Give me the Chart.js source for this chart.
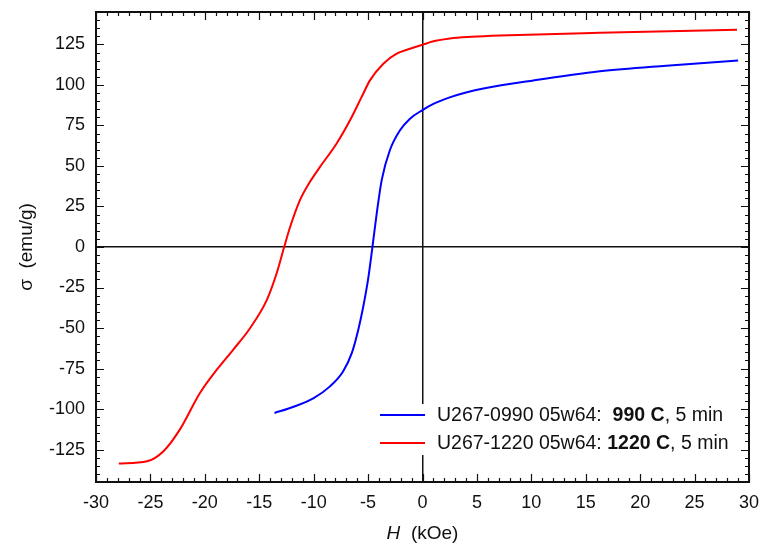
<!DOCTYPE html>
<html>
<head>
<meta charset="utf-8">
<script src="https://cdn.jsdelivr.net/npm/chart.js@4/dist/chart.umd.min.js"></script>
<style>
  html, body { margin: 0; padding: 0; background: #fff; }
  canvas { display: block; }
</style>
</head>
<body>
<canvas id="loop" width="763" height="550"></canvas>
<script>
// Sample 1: U267-0990, 990 C
const blueH = [-13.6, -11.9, -10.0, -8.5, -7.3, -6.5, -5.9, -5.45, -5.0, -4.6, -4.2, -3.75, -3.0, -2.07, -1.15, 0, 1.0, 2.5, 4.0, 5.6, 10.2, 16.3, 22.4, 29.0];
const blueS = [-102.4, -98.7, -93.2, -86, -76.8, -65.5, -51, -37, -20, 0, 21, 41.3, 59.7, 72, 79.2, 84.5, 88.3, 92.3, 95.3, 97.8, 102.8, 108.4, 111.9, 115.1];

// Sample 2: U267-1220, 1220 C
const redH = [-27.9, -25.3, -23.8, -22.3, -20.45, -18.9, -17.4, -15.85, -14.3, -13.4, -12.73, -12.18, -11.26, -10.34, -9.42, -7.89, -6.66, -5.59, -4.83, -3.6, -2.37, -1.15, 0, 1.2, 2.53, 4.5, 7.1, 16.3, 28.9];
const redS = [-133.6, -132.2, -126, -112.7, -90.1, -75.7, -63.4, -50.1, -32.6, -16.2, -0.5, 12, 28.9, 40.2, 49.4, 63.9, 78.2, 92.6, 102.8, 113.1, 119.3, 122.3, 124.8, 127.2, 128.7, 129.7, 130.5, 132.2, 134];

const xTicks = [-30, -25, -20, -15, -10, -5, 0, 5, 10, 15, 20, 25, 30];
const yTicks = [-125, -100, -75, -50, -25, 0, 25, 50, 75, 100, 125];

const legendRows = [
    { color: "#0000ff", parts: ["U267-0990 05w64:  ", "990 C", ", 5 min"] },
    { color: "#ff0000", parts: ["U267-1220 05w64: ", "1220 C", ", 5 min"] },
];

const FONT = "'Liberation Sans', Arial, sans-serif";

const toPoints = (xs, ys) => xs.map((x, i) => ({ x: x, y: ys[i] }));

// Inward ticks on all four sides, full frame, axis titles and legend
const framePlugin = {
    id: "frame",
    afterDraw(chart) {
        const ctx = chart.ctx;
        const a = chart.chartArea;
        const xs = chart.scales.x;
        const ys = chart.scales.y;
        ctx.save();
        ctx.strokeStyle = "#111";
        ctx.lineWidth = 1.2;
        ctx.beginPath();
        for (let v = -30; v <= 30; v += 1) {
            const px = Math.round(xs.getPixelForValue(v)) + 0.5;
            const len = v % 5 === 0 ? 8 : 4;
            ctx.moveTo(px, a.bottom); ctx.lineTo(px, a.bottom - len);
            ctx.moveTo(px, a.top); ctx.lineTo(px, a.top + len);
        }
        for (let v = -145; v <= 145; v += 5) {
            const py = Math.round(ys.getPixelForValue(v)) + 0.5;
            const len = v % 25 === 0 ? 8 : 4;
            ctx.moveTo(a.left, py); ctx.lineTo(a.left + len, py);
            ctx.moveTo(a.right, py); ctx.lineTo(a.right - len, py);
        }
        ctx.stroke();
        ctx.lineWidth = 2;
        ctx.strokeRect(a.left, a.top, a.right - a.left, a.bottom - a.top);

        // axis titles
        ctx.fillStyle = "#111";
        ctx.textBaseline = "middle";
        ctx.font = "italic 19px " + FONT;
        const hW = ctx.measureText("H").width;
        ctx.font = "19px " + FONT;
        const restX = "  (kOe)";
        const rW = ctx.measureText(restX).width;
        let sx = (a.left + a.right) / 2 - (hW + rW) / 2;
        ctx.textAlign = "left";
        ctx.font = "italic 19px " + FONT;
        ctx.fillText("H", sx, 534);
        ctx.font = "19px " + FONT;
        ctx.fillText(restX, sx + hW, 534);

        ctx.save();
        ctx.translate(27, (a.top + a.bottom) / 2);
        ctx.rotate(-Math.PI / 2);
        ctx.font = "19px " + FONT;
        const sW = ctx.measureText("\u03c3").width;
        const restY = "  (emu/g)";
        const ryW = ctx.measureText(restY).width;
        let sy = -(sW + ryW) / 2;
        ctx.fillText("\u03c3", sy, 0);
        ctx.fillText(restY, sy + sW, 0);
        ctx.restore();

        // legend
        ctx.fillStyle = "#fff";
        ctx.fillRect(374, 404, 362, 51);
        legendRows.forEach((row, i) => {
            const yy = 415 + i * 28;
            ctx.strokeStyle = row.color;
            ctx.lineWidth = 2;
            ctx.beginPath();
            ctx.moveTo(380, yy); ctx.lineTo(425, yy);
            ctx.stroke();
            let tx = 437;
            ctx.fillStyle = "#111";
            row.parts.forEach((p, j) => {
                ctx.font = (j === 1 ? "bold " : "") + "19.5px " + FONT;
                ctx.fillText(p, tx, yy + 1);
                tx += ctx.measureText(p).width;
            });
        });
        ctx.restore();
    },
};

new Chart(document.getElementById("loop"), {
    type: "line",
    data: {
        datasets: [
            { label: "U267-0990 05w64: 990 C, 5 min", data: toPoints(blueH, blueS), borderColor: "#0000ff", borderWidth: 2, pointRadius: 0, cubicInterpolationMode: "monotone", fill: false },
            { label: "U267-1220 05w64: 1220 C, 5 min", data: toPoints(redH, redS), borderColor: "#ff0000", borderWidth: 2, pointRadius: 0, cubicInterpolationMode: "monotone", fill: false },
        ],
    },
    options: {
        responsive: false,
        animation: false,
        layout: { padding: { top: 12, right: 14, left: 0, bottom: 0 } },
        plugins: { legend: { display: false }, tooltip: { enabled: false } },
        scales: {
            x: {
                type: "linear",
                min: -30,
                max: 30,
                afterBuildTicks: (s) => { s.ticks = xTicks.map((v) => ({ value: v })); },
                afterFit: (s) => { s.height = 68; s.paddingLeft = 0; s.paddingRight = 0; },
                ticks: { padding: 10, color: "#111", font: { family: FONT, size: 18 } },
                grid: { drawTicks: false, lineWidth: 1.5, color: (c) => (c.tick && c.tick.value === 0 ? "#111" : "rgba(0,0,0,0)") },
                border: { display: false },
            },
            y: {
                type: "linear",
                min: -145,
                max: 145,
                afterBuildTicks: (s) => { s.ticks = yTicks.map((v) => ({ value: v })); },
                afterFit: (s) => { s.width = 96; s.paddingTop = 0; s.paddingBottom = 0; },
                ticks: { padding: 11, color: "#111", font: { family: FONT, size: 18 } },
                grid: { drawTicks: false, lineWidth: 1.5, color: (c) => (c.tick && c.tick.value === 0 ? "#111" : "rgba(0,0,0,0)") },
                border: { display: false },
            },
        },
    },
    plugins: [framePlugin],
});
</script>
</body>
</html>
